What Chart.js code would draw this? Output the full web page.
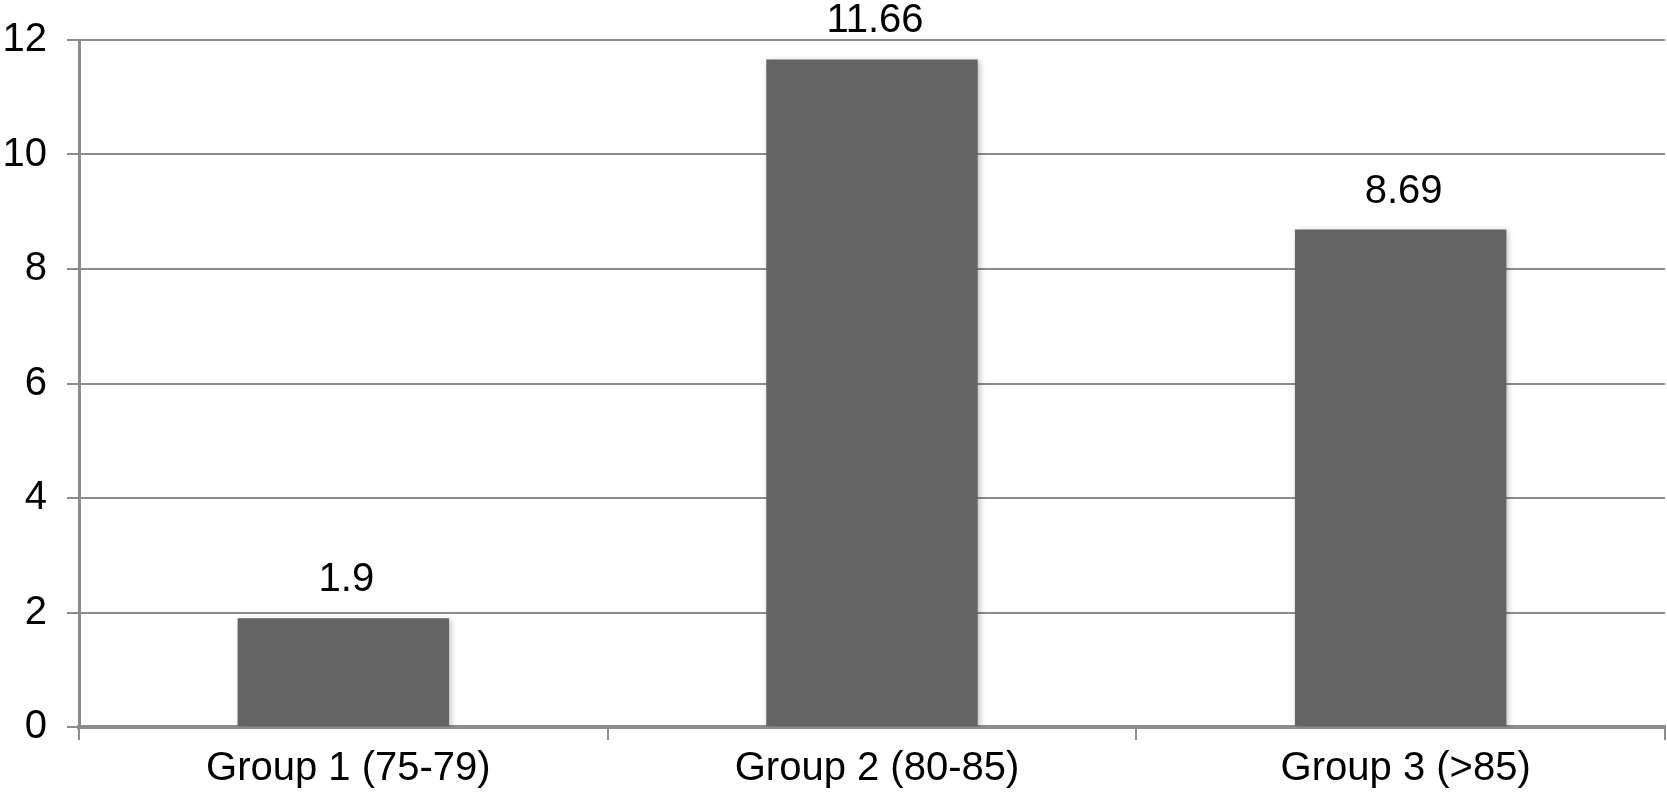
<!DOCTYPE html>
<html>
<head>
<meta charset="utf-8">
<script src="https://cdn.jsdelivr.net/npm/chart.js@4"></script>
<style>
  html, body { margin: 0; padding: 0; background: #fff; }
  #wrap { width: 1667px; height: 801px; }
</style>
</head>
<body>
<div id="wrap"><canvas id="myChart" width="1667" height="801"></canvas></div>
<script>
// Chart data
var categories = ['Group 1 (75-79)', 'Group 2 (80-85)', 'Group 3 (>85)'];
var values = [1.9, 11.66, 8.69];
var yTicks = [0, 2, 4, 6, 8, 10, 12];

var fontFamily = '"Liberation Sans", Arial, Helvetica, sans-serif';
var gridGray = '#8c8c8c';

// Value labels above the bars
var valueLabels = {
  id: 'valueLabels',
  afterDatasetsDraw: function (chart) {
    var c = chart.ctx;
    var meta = chart.getDatasetMeta(0);
    c.save();
    c.font = '40px ' + fontFamily;
    c.fillStyle = '#000';
    c.textAlign = 'center';
    c.textBaseline = 'bottom';
    meta.data.forEach(function (bar, i) {
      c.fillText(String(values[i]), bar.x + 3, bar.y - 18);
    });
    c.restore();
  }
};

// Soft shadow under bars
var barShadow = {
  id: 'barShadow',
  beforeDatasetsDraw: function (chart) {
    var c = chart.ctx;
    c.save();
    c.shadowColor = 'rgba(0,0,0,0.25)';
    c.shadowBlur = 6;
    c.shadowOffsetX = 2;
    c.shadowOffsetY = 2;
  },
  afterDatasetsDraw: function (chart) {
    chart.ctx.restore();
  }
};

var ctx = document.getElementById('myChart').getContext('2d');

var myChart = new Chart(ctx, {
  type: 'bar',
  data: {
    labels: categories,
    datasets: [
      {
        data: values,
        backgroundColor: '#646464',
        borderWidth: 0,
        categoryPercentage: 1,
        barPercentage: 0.4,
      },
    ],
  },
  options: {
    responsive: false,
    animation: false,
    layout: { padding: { top: 0, right: 2, bottom: 0, left: 0 } },
    plugins: {
      legend: { display: false },
      tooltip: { enabled: false },
    },
    scales: {
      x: {
        grid: {
          offset: true,
          drawOnChartArea: true,
          color: function (c) { return c.index === categories.length ? gridGray : 'rgba(0,0,0,0)'; },
          tickColor: gridGray,
          tickLength: 13,
          lineWidth: 2,
        },
        border: { color: gridGray, width: 4 },
        ticks: {
          color: '#000',
          font: { family: fontFamily, size: 40 },
          padding: 5,
          labelOffset: 5,
          maxRotation: 0,
        },
        afterFit: function (scale) { scale.height = 74; },
      },
      y: {
        min: 0,
        max: 12,
        afterBuildTicks: function (scale) {
          scale.ticks = yTicks.map(function (v) { return { value: v }; });
        },
        grid: {
          color: gridGray,
          lineWidth: 2,
          tickLength: 12,
          tickColor: gridGray,
        },
        border: { color: gridGray, width: 3 },
        ticks: {
          color: '#000',
          font: { family: fontFamily, size: 40, lineHeight: 1 },
          padding: 20,
        },
        afterFit: function (scale) { scale.width = 79; },
      },
    },
  },
  plugins: [barShadow, valueLabels],
});
</script>
</body>
</html>
